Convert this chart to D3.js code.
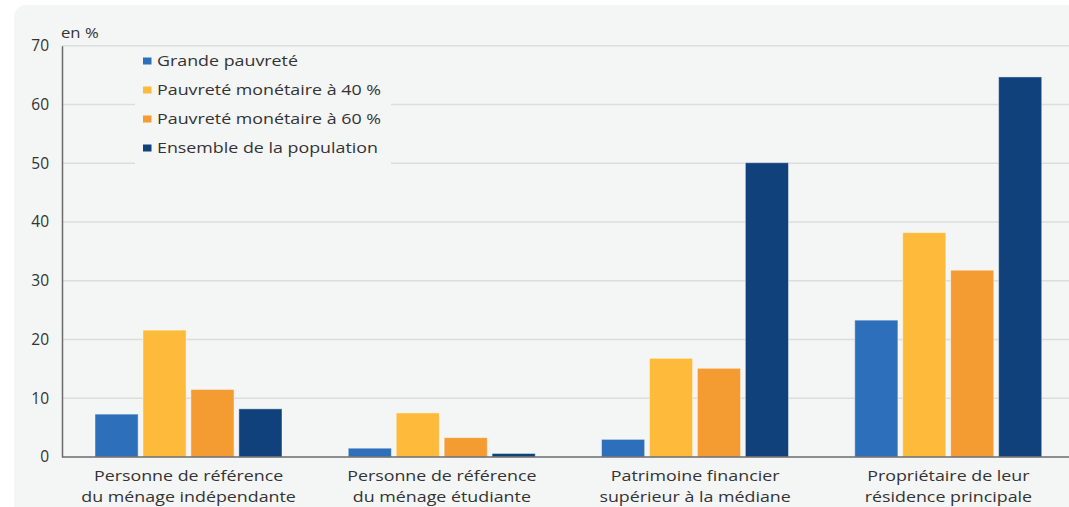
<!DOCTYPE html>
<html>
<head>
<meta charset="utf-8">
<script src="https://cdn.jsdelivr.net/npm/d3@7"></script>
<style>
  html, body { margin: 0; padding: 0; background: #ffffff; }
  svg { display: block; }
  text { font-family: "Open Sans", "Noto Sans", sans-serif; fill: #333333; }
</style>
</head>
<body>
<svg id="chart" width="1069" height="507"></svg>
<script>
const categories = [
  ["Personne de référence", "du ménage indépendante"],
  ["Personne de référence", "du ménage étudiante"],
  ["Patrimoine financier", "supérieur à la médiane"],
  ["Propriétaire de leur", "résidence principale"]
];
const seriesNames = [
  "Grande pauvreté",
  "Pauvreté monétaire à 40 %",
  "Pauvreté monétaire à 60 %",
  "Ensemble de la population"
];
const grandePauvrete = [7.3, 1.5, 3.0, 23.3];
const pauvrete40 = [21.6, 7.5, 16.8, 38.2];
const pauvrete60 = [11.5, 3.3, 15.1, 31.8];
const ensemble = [8.2, 0.6, 50.1, 64.7];
const yTicks = [0, 10, 20, 30, 40, 50, 60, 70];
const colors = ["#2d6fbb", "#fdba3b", "#f49b32", "#11417b"];

const seriesValues = [grandePauvrete, pauvrete40, pauvrete60, ensemble];

const svg = d3.select("#chart");
const W = 1069, H = 507;
const mLeft = 62, mRight = 1075, mTop = 45.8, mBottom = 457;
const stretch = 1.19;

// panel background
svg.append("rect")
  .attr("x", 14).attr("y", 5)
  .attr("width", W + 20).attr("height", H + 20)
  .attr("rx", 12).attr("ry", 12)
  .attr("fill", "#f4f5f5");

const x0 = d3.scaleBand().domain(d3.range(categories.length)).range([mLeft, mRight]).padding(0);
const x1 = d3.scaleBand().domain(d3.range(seriesNames.length)).range([33, 220]).paddingInner(0.1);
const y = d3.scaleLinear().domain([0, 70]).range([mBottom, mTop]);

// gridlines
svg.append("g")
  .selectAll("line")
  .data(yTicks.filter(t => t > 0))
  .join("line")
  .attr("x1", mLeft).attr("x2", W)
  .attr("y1", d => y(d)).attr("y2", d => y(d))
  .attr("stroke", "#dcdddd").attr("stroke-width", 1.5);

// y axis
const yAxis = d3.axisLeft(y).tickValues(yTicks).tickSize(0).tickPadding(13);
const gy = svg.append("g").attr("transform", `translate(${mLeft},0)`).call(yAxis);
gy.attr("font-family", null);
gy.select(".domain").attr("stroke", "#6b6b6b").attr("stroke-width", 1.5);
gy.selectAll("text").attr("font-size", 15.5).attr("fill", "#333");

// bars
const groups = svg.append("g").selectAll("g")
  .data(categories.map((c, i) => i))
  .join("g")
  .attr("transform", i => `translate(${x0(i)},0)`);

groups.selectAll("rect")
  .data(i => seriesValues.map((vals, s) => ({ s, v: vals[i] })))
  .join("rect")
  .attr("x", d => x1(d.s))
  .attr("width", x1.bandwidth())
  .attr("y", d => y(d.v))
  .attr("height", d => y(0) - y(d.v))
  .attr("fill", d => colors[d.s])
  .attr("stroke", "rgba(255,255,255,0.45)")
  .attr("stroke-width", 1);

// x axis
const xAxis = d3.axisBottom(x0).tickSize(0).tickFormat(() => "");
const gx = svg.append("g").attr("transform", `translate(0,${mBottom})`).call(xAxis);
gx.attr("font-family", null);
gx.select(".domain").attr("d", `M${mLeft},0H${W}`).attr("stroke", "#6b6b6b").attr("stroke-width", 1.5);
gx.selectAll(".tick").each(function(i) {
  const t = d3.select(this).append("text")
    .attr("text-anchor", "middle")
    .attr("font-size", 15)
    .attr("fill", "#333")
    .attr("transform", `scale(${stretch},1)`);
  categories[i].forEach((line, k) => {
    t.append("tspan").attr("x", 0).attr("y", 24 + k * 21).text(line);
  });
});

// unit label
svg.append("text")
  .attr("transform", `translate(61,38) scale(${stretch},1)`)
  .attr("font-size", 14).text("en %");

// legend
const lg = svg.append("g").attr("transform", "translate(135,47)");
lg.append("rect").attr("x", 0).attr("y", 0).attr("width", 256).attr("height", 118).attr("fill", "#f4f5f5");
const items = lg.selectAll("g.item").data(seriesNames).join("g")
  .attr("class", "item")
  .attr("transform", (d, i) => `translate(0,${14 + i * 29})`);
items.append("rect").attr("x", 8).attr("y", -3.5).attr("width", 8.5).attr("height", 7)
  .attr("fill", (d, i) => colors[i]);
items.append("text")
  .attr("transform", `translate(22,0) scale(${stretch},1)`)
  .attr("dy", "0.35em")
  .attr("font-size", 15).text(d => d);
</script>
</body>
</html>
